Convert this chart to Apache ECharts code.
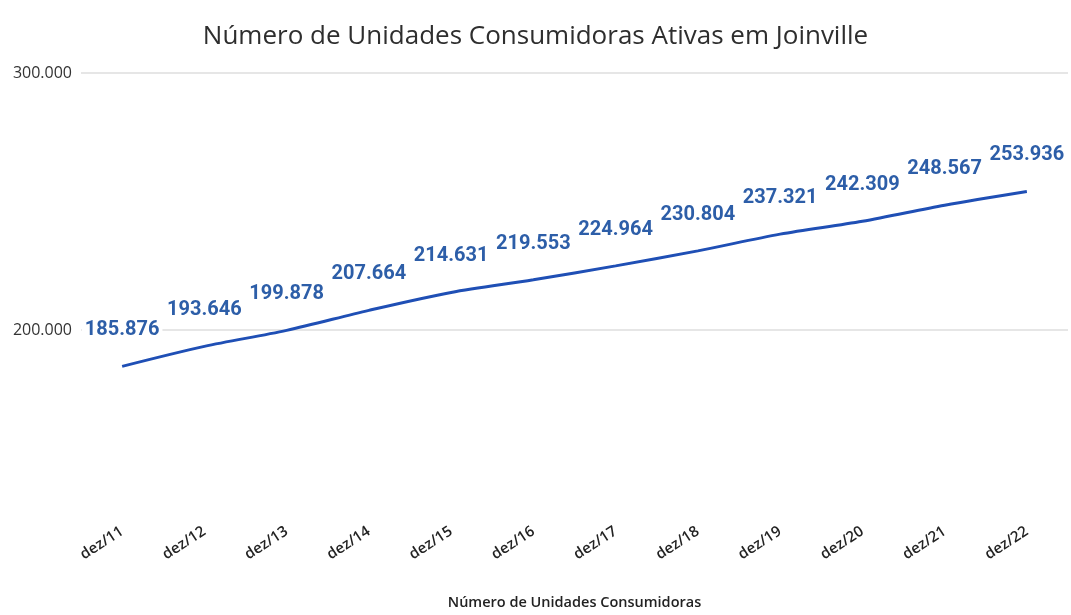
<!DOCTYPE html>
<html>
<head>
<meta charset="utf-8">
<title>Número de Unidades Consumidoras Ativas em Joinville</title>
<script src="https://cdn.jsdelivr.net/npm/echarts@6/dist/echarts.min.js"></script>
<style>
  html, body { margin: 0; padding: 0; background: #ffffff; }
  #chart { width: 1071px; height: 615px; }
</style>
</head>
<body>
<div id="chart"></div>
<script>
// Active consumer units in Joinville, December of each year
const categories = ['dez/11', 'dez/12', 'dez/13', 'dez/14', 'dez/15', 'dez/16',
                    'dez/17', 'dez/18', 'dez/19', 'dez/20', 'dez/21', 'dez/22'];
const unidades = [185876, 193646, 199878, 207664, 214631, 219553,
                  224964, 230804, 237321, 242309, 248567, 253936];
const yTicks = [200000, 300000];

const titleText = 'Número de Unidades Consumidoras Ativas em Joinville';
const xAxisTitle = 'Número de Unidades Consumidoras';

// pt-BR thousands separator
function fmt(v) {
  return String(Math.round(v)).replace(/\B(?=(\d{3})+(?!\d))/g, '.');
}

const chart = echarts.init(document.getElementById('chart'), null, { renderer: 'canvas' });

chart.setOption({
  backgroundColor: '#ffffff',
  animation: false,
  title: {
    text: titleText,
    left: 'center',
    top: 19,
    textStyle: {
      fontFamily: 'Open Sans',
      fontSize: 26,
      fontWeight: 500,
      color: '#2e2e2e'
    }
  },
  grid: {
    left: 81,
    right: 3,
    top: 73,
    bottom: 94
  },
  xAxis: {
    type: 'category',
    data: categories,
    boundaryGap: true,
    name: xAxisTitle,
    nameLocation: 'middle',
    nameGap: 85,
    nameTextStyle: {
      fontFamily: 'Open Sans',
      fontSize: 14.5,
      fontWeight: 600,
      color: '#222222'
    },
    axisLine: { show: false },
    axisTick: { show: false },
    axisLabel: {
      rotate: 33,
      margin: 20,
      interval: 0,
      fontFamily: 'Open Sans',
      fontSize: 15,
      fontWeight: 600,
      color: '#222222'
    },
    splitLine: { show: false }
  },
  yAxis: {
    type: 'value',
    min: 130000,
    max: 300000,
    interval: 10000,
    axisLine: { show: false },
    axisTick: { show: false },
    splitLine: { show: false },
    axisLabel: {
      margin: 9,
      fontFamily: 'Open Sans',
      fontSize: 16,
      color: '#333333',
      formatter: function (v) {
        return yTicks.indexOf(v) >= 0 ? fmt(v) : '';
      }
    }
  },
  series: [
    {
      // gridlines at the labelled values, kept beneath the data
      type: 'line',
      data: [],
      silent: true,
      z: 1,
      markLine: {
        silent: true,
        z: 1,
        symbol: 'none',
        label: { show: false },
        lineStyle: { color: '#dedede', width: 1.5, type: 'solid' },
        data: yTicks.map(function (v) { return { yAxis: v }; })
      }
    },
    {
      type: 'line',
      data: unidades,
      smooth: 0.3,
      showSymbol: true,
      symbol: 'circle',
      symbolSize: 0.1,
      lineStyle: { color: '#1f4fb5', width: 3 },
      itemStyle: { color: '#1f4fb5' },
      label: {
        show: true,
        position: 'top',
        distance: 26,
        fontFamily: 'Roboto',
        fontSize: 20,
        fontWeight: 'bold',
        color: '#2d5ea8',
        backgroundColor: '#ffffff',
        padding: [0, 3],
        formatter: function (p) { return fmt(p.value); }
      },
      z: 3
    }
  ]
});
</script>
</body>
</html>
